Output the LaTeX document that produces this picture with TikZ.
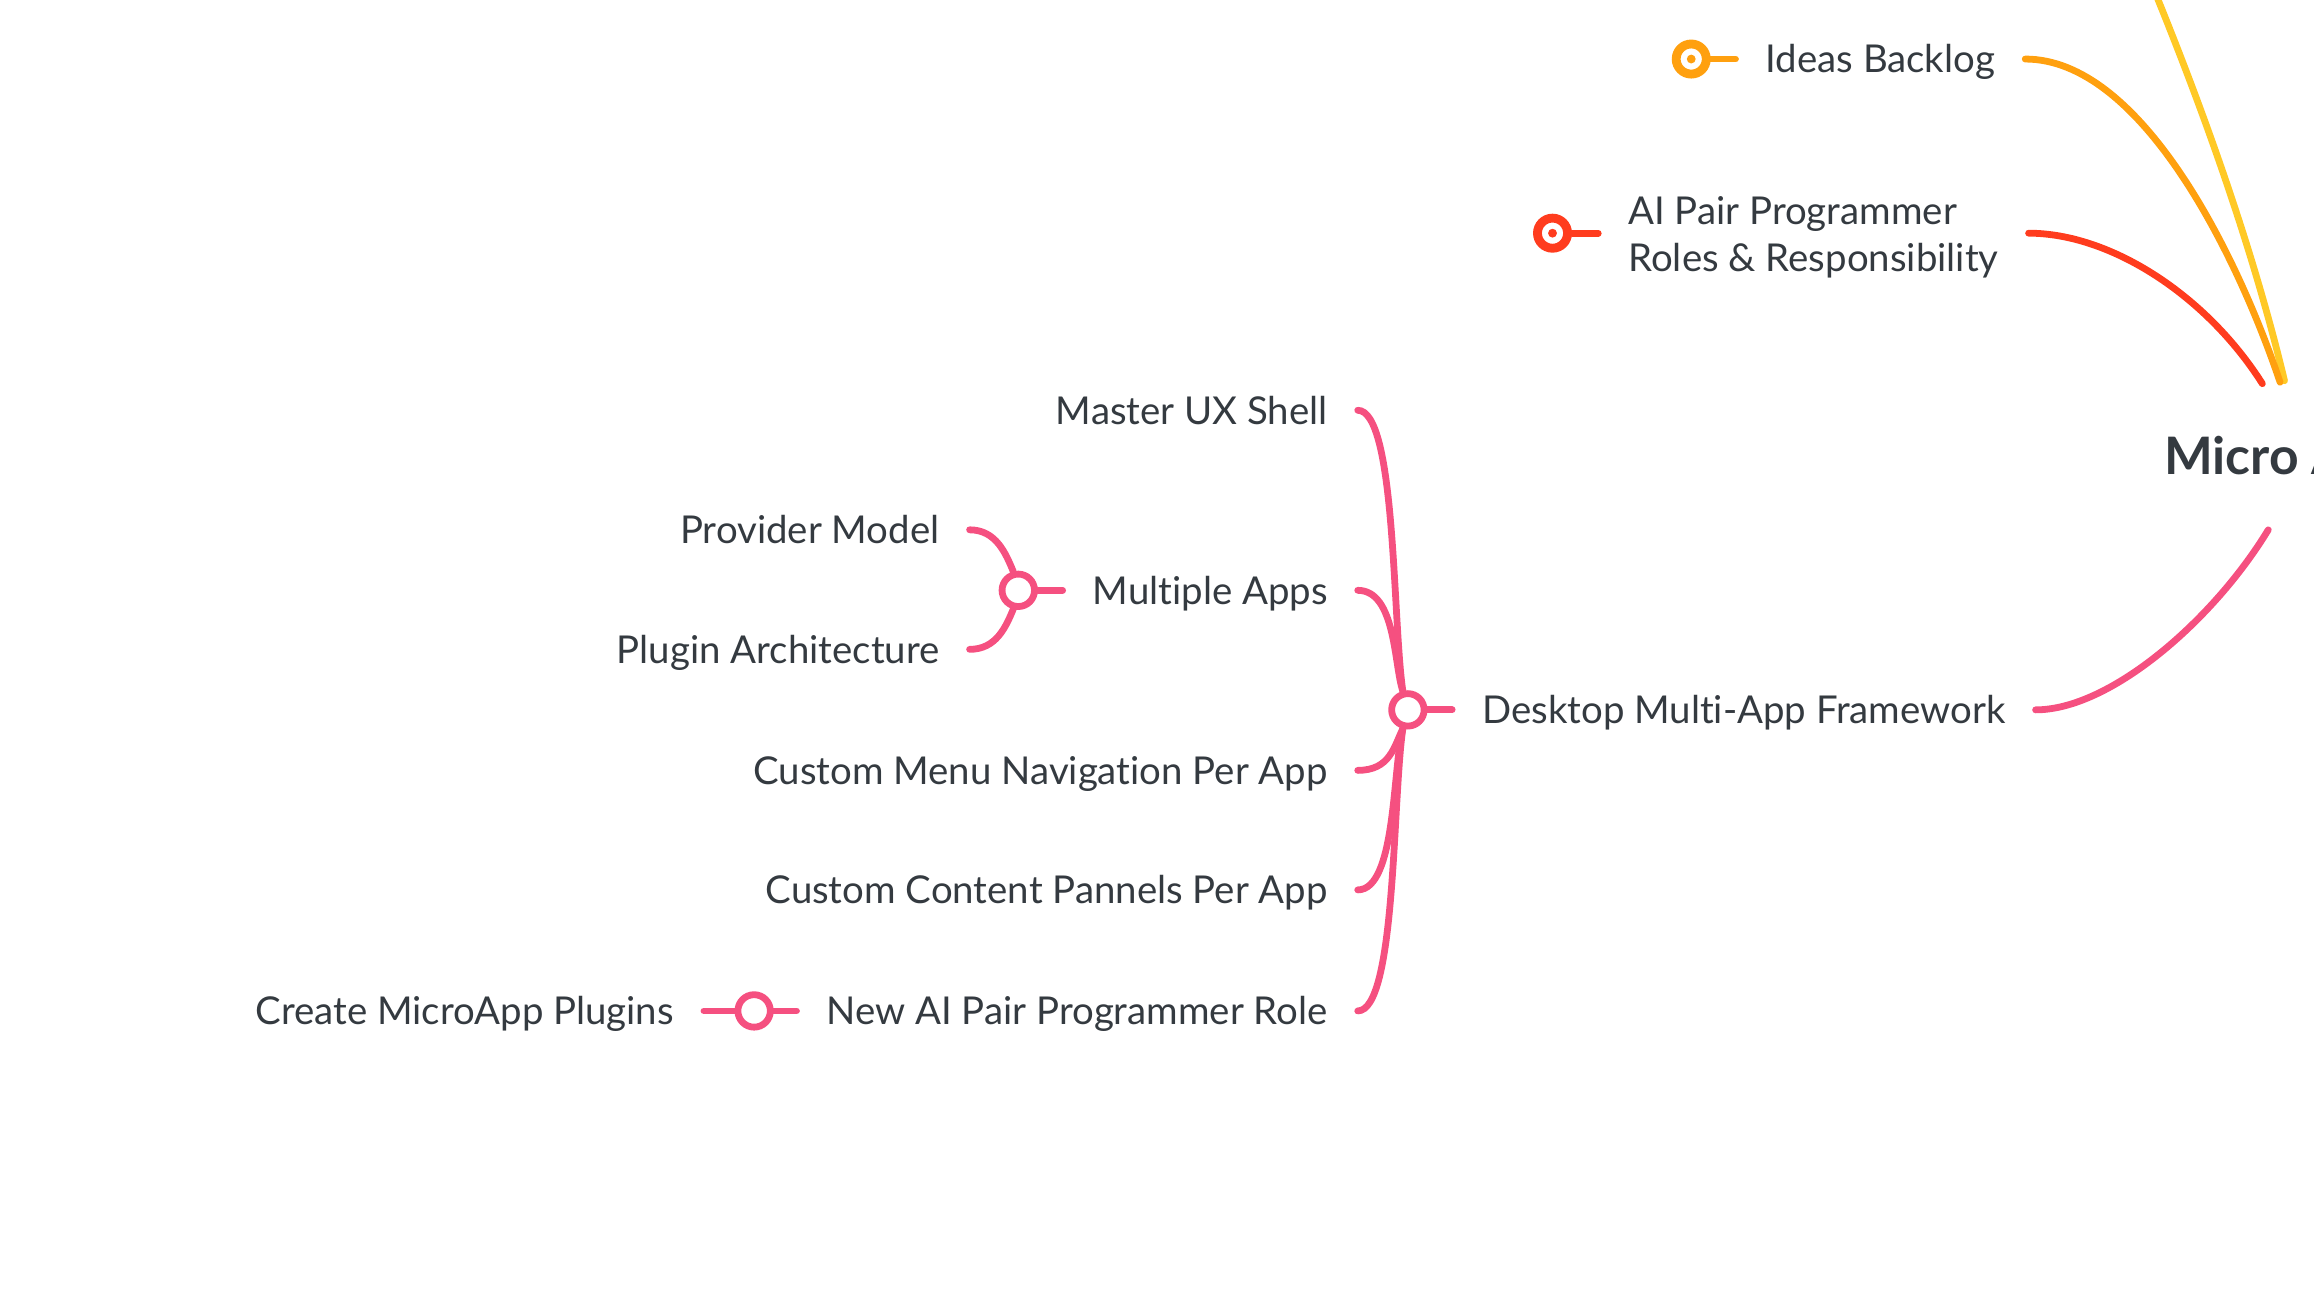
\documentclass[tikz,border=0pt]{standalone}
\usepackage{fontspec}
\setmainfont{Lato}[Ligatures=NoCommon]
\usepackage{tikz}

\definecolor{inkgray}{RGB}{52,58,64}
\definecolor{mpink}{RGB}{245,80,128}
\definecolor{morange}{RGB}{255,160,15}
\definecolor{mred}{RGB}{255,60,30}
\definecolor{myellow}{RGB}{255,201,38}

\tikzset{
  topic/.style={inner xsep=10pt, inner ysep=0pt, text=inkgray, font=\fontsize{13}{16}\selectfont, text height=9.4pt, text depth=0pt},
  topictwo/.style={inner xsep=10pt, inner ysep=0pt, text=inkgray, font=\fontsize{13}{16}\selectfont, align=left},
  rootlabel/.style={inner xsep=10pt, inner ysep=0pt, text=inkgray, font=\bfseries\fontsize{17.5}{21}\selectfont},
  openring/.style={circle, draw=mpink, fill=white, line width=2.3pt, minimum size=11pt, inner sep=0pt},
  knob/.style={circle, draw=#1, fill=white, line width=3pt, minimum size=10.2pt, inner sep=0pt},
  branch/.style={draw=#1, line width=2.3pt, line cap=round},
}

\begin{document}
\begin{tikzpicture}[x=0.5pt,y=0.5pt,yscale=-1,xscale=1]
\useasboundingbox (0,0) rectangle (1568,885);
\clip (0,0) rectangle (1568,885);

% Text Node
\node [rootlabel, anchor=west] (micro) at (1446,309) {Micro A};
% Text Node
\node [topic, anchor=west] (ideas) at (1176,40) {Ideas Backlog};
% Text Node
\node [topictwo, anchor=west] (aipair) at (1083,161) {AI Pair Programmer\\Roles \& Responsibility};
% Text Node
\node [topic, anchor=west] (desk) at (984,481) {Desktop Multi-App Framework};
% Text Node
\node [topic, anchor=east] (mus) at (920,278) {Master UX Shell};
% Text Node
\node [topic, anchor=east] (mapps) at (920,400) {Multiple Apps};
% Text Node
\node [topic, anchor=east] (ccm) at (920,522) {Custom Menu Navigation Per App};
% Text Node
\node [topic, anchor=east] (ccp) at (920,603) {Custom Content Pannels Per App};
% Text Node
\node [topic, anchor=east] (newai) at (920,685) {New AI Pair Programmer Role};
% Text Node
\node [topic, anchor=east] (provider) at (657,359) {Provider Model};
% Text Node
\node [topic, anchor=east] (plugin) at (657,440) {Plugin Architecture};
% Text Node
\node [topic, anchor=east] (create) at (477,685) {Create MicroApp Plugins};

%Shape: Circle
\node [knob=morange] (ideas-dot) at (1146,40) {};
\fill [morange] (ideas-dot.center) circle (1.5pt);
%Shape: Circle
\node [knob=mred] (aipair-dot) at (1052,158) {};
\fill [mred] (aipair-dot.center) circle (1.5pt);
%Shape: Circle
\node [openring] (desk-dot) at (954,481) {};
%Shape: Circle
\node [openring] (mapps-dot) at (690,400) {};
%Shape: Circle
\node [openring] (newai-dot) at (511,685) {};

% ends on the central topic
\coordinate (micro-yl) at (1548,258);
\coordinate (micro-or) at (1545,259);
\coordinate (micro-rd) at (1533,260);
\coordinate (micro-pk) at (1537,359);
\coordinate (yellow-src) at (1450,-30);

%Curve Lines
\draw [branch=myellow] (micro-yl) .. controls (1527,170) and (1492,70) .. (yellow-src);
\draw [branch=morange] (ideas.east) .. controls (1450,40) and (1515,170) .. (micro-or);
\draw [branch=mred] (aipair.east |- aipair-dot) .. controls (1430,158) and (1495,200) .. (micro-rd);
\draw [branch=mpink] (desk.east) .. controls (1430,481) and (1500,420) .. (micro-pk);

%Straight Lines
\draw [branch=morange] (ideas-dot) -- (ideas.west);
\draw [branch=mred] (aipair-dot) -- (aipair.west |- aipair-dot);
\draw [branch=mpink] (desk-dot) -- (desk.west);
\draw [branch=mpink] (mapps-dot) -- (mapps.west);
\draw [branch=mpink] (create.east) -- (newai-dot);
\draw [branch=mpink] (newai-dot) -- (newai.west);

%Curve Lines
\draw [branch=mpink] (mus.east) .. controls +(26,0) and +(-7,-48) .. (desk-dot.105);
\draw [branch=mpink] (mapps.east) .. controls +(26,0) and +(-6,-17) .. (desk-dot.105);
\draw [branch=mpink] (ccm.east) .. controls +(22,0) and +(-6,12) .. (desk-dot.255);
\draw [branch=mpink] (ccp.east) .. controls +(26,0) and +(-7,27) .. (desk-dot.255);
\draw [branch=mpink] (newai.east) .. controls +(26,0) and +(-7,48) .. (desk-dot.255);
\draw [branch=mpink] (provider.east) .. controls +(18,0) and +(-5,-12) .. (mapps-dot.105);
\draw [branch=mpink] (plugin.east) .. controls +(18,0) and +(-5,12) .. (mapps-dot.255);

\end{tikzpicture}
\end{document}
